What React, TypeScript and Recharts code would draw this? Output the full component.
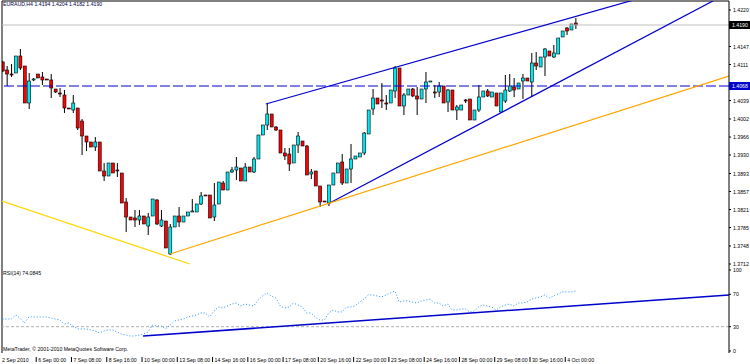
import React from "react";
import { ComposedChart, Bar, Line, XAxis, YAxis, ReferenceLine } from "recharts";

/* EURAUD H4, 2 Sep 16:00 .. 4 Oct 08:00 (bar index 0..130) */
const OPEN = [
  1.4116, 1.4100, 1.4092, 1.4094, 1.4128, 1.4108, 1.4034, 1.4080, 1.4092, 1.4086,
  1.4082, 1.4080, 1.4062, 1.4054, 1.4050, 1.4024, 1.4020, 1.4024, 1.3998, 1.3968,
  1.3956, 1.3946, 1.3956, 1.3898, 1.3888, 1.3914, 1.3900, 1.3894, 1.3836, 1.3806,
  1.3804, 1.3800, 1.3808, 1.3788, 1.3808, 1.3840, 1.3788, 1.3798, 1.3732, 1.3786,
  1.3808, 1.3796, 1.3808, 1.3816, 1.3816, 1.3832, 1.3850, 1.3850, 1.3806, 1.3832,
  1.3874, 1.3860, 1.3896, 1.3900, 1.3904, 1.3878, 1.3906, 1.3896, 1.3922, 1.3970,
  1.3990, 1.4012, 1.3986, 1.3980, 1.3934, 1.3932, 1.3914, 1.3950, 1.3958, 1.3948,
  1.3892, 1.3898, 1.3868, 1.3838, 1.3834, 1.3870, 1.3894, 1.3916, 1.3874, 1.3902,
  1.3922, 1.3926, 1.3934, 1.3972, 1.4022, 1.4044, 1.4040, 1.4034, 1.4034, 1.4058,
  1.4104, 1.4028, 1.4050, 1.4062, 1.4048, 1.4042, 1.4062, 1.4076, 1.4056, 1.4056,
  1.4068, 1.4036, 1.4060, 1.4020, 1.4020, 1.4040, 1.4042, 1.4000, 1.4020, 1.4046,
  1.4058, 1.4046, 1.4054, 1.4016, 1.4038, 1.4058, 1.4066, 1.4062, 1.4078, 1.4084,
  1.4076, 1.4114, 1.4106, 1.4126, 1.4138, 1.4126, 1.4132, 1.4166, 1.4184, 1.4180,
  1.4194,
];
const HIGH = [
  1.4118, 1.4108, 1.4112, 1.4128, 1.4142, 1.4108, 1.4094, 1.4084, 1.4092, 1.4096,
  1.4082, 1.4092, 1.4062, 1.4064, 1.4060, 1.4024, 1.4050, 1.4024, 1.4002, 1.3968,
  1.3956, 1.3966, 1.3956, 1.3914, 1.3914, 1.3914, 1.3914, 1.3894, 1.3844, 1.3806,
  1.3820, 1.3820, 1.3808, 1.3814, 1.3842, 1.3842, 1.3820, 1.3798, 1.3792, 1.3808,
  1.3826, 1.3808, 1.3816, 1.3842, 1.3832, 1.3856, 1.3850, 1.3850, 1.3874, 1.3876,
  1.3878, 1.3896, 1.3906, 1.3926, 1.3904, 1.3914, 1.3906, 1.3926, 1.3970, 1.3990,
  1.4032, 1.4012, 1.3988, 1.3980, 1.3944, 1.3944, 1.3950, 1.3976, 1.3958, 1.3950,
  1.3902, 1.3898, 1.3868, 1.3838, 1.3870, 1.3894, 1.3914, 1.3932, 1.3902, 1.3952,
  1.3928, 1.3934, 1.3976, 1.4020, 1.4062, 1.4044, 1.4074, 1.4050, 1.4060, 1.4108,
  1.4104, 1.4054, 1.4062, 1.4064, 1.4066, 1.4062, 1.4096, 1.4078, 1.4070, 1.4076,
  1.4068, 1.4062, 1.4060, 1.4030, 1.4030, 1.4042, 1.4042, 1.4020, 1.4070, 1.4058,
  1.4062, 1.4056, 1.4054, 1.4054, 1.4090, 1.4092, 1.4084, 1.4074, 1.4092, 1.4084,
  1.4134, 1.4136, 1.4126, 1.4144, 1.4138, 1.4150, 1.4164, 1.4178, 1.4186, 1.4192,
  1.4204,
];
const LOW = [
  1.4096, 1.4068, 1.4086, 1.4094, 1.4100, 1.4034, 1.4022, 1.4078, 1.4084, 1.4070,
  1.4080, 1.4044, 1.4054, 1.4046, 1.4014, 1.4022, 1.4014, 1.3980, 1.3930, 1.3938,
  1.3946, 1.3938, 1.3898, 1.3878, 1.3888, 1.3894, 1.3886, 1.3834, 1.3776, 1.3800,
  1.3786, 1.3790, 1.3792, 1.3770, 1.3808, 1.3790, 1.3786, 1.3744, 1.3730, 1.3786,
  1.3786, 1.3796, 1.3808, 1.3816, 1.3816, 1.3830, 1.3848, 1.3804, 1.3798, 1.3832,
  1.3860, 1.3860, 1.3894, 1.3880, 1.3878, 1.3878, 1.3896, 1.3894, 1.3922, 1.3970,
  1.3980, 1.3986, 1.3978, 1.3934, 1.3920, 1.3898, 1.3914, 1.3934, 1.3948, 1.3890,
  1.3882, 1.3868, 1.3826, 1.3836, 1.3828, 1.3870, 1.3894, 1.3870, 1.3874, 1.3874,
  1.3922, 1.3926, 1.3930, 1.3972, 1.4010, 1.4032, 1.4024, 1.4020, 1.4034, 1.4044,
  1.4028, 1.4010, 1.4050, 1.4046, 1.4010, 1.4042, 1.4034, 1.4076, 1.4044, 1.4046,
  1.4034, 1.4016, 1.4020, 1.4000, 1.4020, 1.4034, 1.4000, 1.4000, 1.4016, 1.4046,
  1.4046, 1.4046, 1.4028, 1.4016, 1.4034, 1.4056, 1.4046, 1.4062, 1.4042, 1.4078,
  1.4046, 1.4100, 1.4106, 1.4088, 1.4128, 1.4124, 1.4132, 1.4166, 1.4170, 1.4180,
  1.4182,
];
const CLOSE = [
  1.4098, 1.4092, 1.4090, 1.4128, 1.4104, 1.4034, 1.4078, 1.4082, 1.4084, 1.4080,
  1.4081, 1.4064, 1.4056, 1.4052, 1.4024, 1.4022, 1.4034, 1.3984, 1.3968, 1.3956,
  1.3946, 1.3956, 1.3898, 1.3888, 1.3914, 1.3894, 1.3898, 1.3834, 1.3806, 1.3800,
  1.3800, 1.3808, 1.3792, 1.3806, 1.3842, 1.3792, 1.3800, 1.3744, 1.3786, 1.3808,
  1.3796, 1.3808, 1.3816, 1.3818, 1.3832, 1.3848, 1.3849, 1.3804, 1.3830, 1.3876,
  1.3860, 1.3896, 1.3900, 1.3906, 1.3878, 1.3906, 1.3896, 1.3922, 1.3970, 1.3990,
  1.4012, 1.3986, 1.3980, 1.3934, 1.3928, 1.3912, 1.3950, 1.3968, 1.3948, 1.3890,
  1.3896, 1.3868, 1.3836, 1.3837, 1.3870, 1.3894, 1.3914, 1.3874, 1.3902, 1.3922,
  1.3928, 1.3934, 1.3974, 1.4020, 1.4044, 1.4032, 1.4039, 1.4033, 1.4060, 1.4104,
  1.4028, 1.4050, 1.4062, 1.4048, 1.4042, 1.4062, 1.4076, 1.4078, 1.4055, 1.4068,
  1.4034, 1.4060, 1.4020, 1.4026, 1.4030, 1.4039, 1.4000, 1.4020, 1.4046, 1.4058,
  1.4048, 1.4056, 1.4028, 1.4054, 1.4060, 1.4068, 1.4060, 1.4074, 1.4084, 1.4078,
  1.4114, 1.4108, 1.4126, 1.4142, 1.4128, 1.4134, 1.4164, 1.4178, 1.4178, 1.4192,
  1.4190,
];
const RSI = [
  39.5, 39.5, 39.5, 44.5, 40.7, 34.6, 42, 42, 42, 42,
  42, 40.7, 39.5, 38.3, 33.3, 34.6, 30.9, 27.2, 27.2, 27.2,
  26, 24.7, 22.2, 24.7, 26, 26, 23.5, 21, 19.8, 18.5,
  18.5, 19.8, 21, 23.5, 32, 30.9, 30.9, 27.2, 32, 37,
  38.3, 39.5, 42, 43.2, 44.5, 46.9, 46.9, 42, 49.4, 54.3,
  53.1, 55.6, 58, 59.3, 55.6, 58, 56.8, 55.6, 63, 67.9,
  71.6, 67.9, 65.5, 55.6, 53.1, 54.3, 59.3, 56.8, 54.3, 46.9,
  46.9, 42, 38.3, 38.3, 46.9, 50.6, 48.2, 48.2, 54.3, 54.3,
  55.6, 60.5, 64.2, 69.2, 69.2, 67.9, 66.7, 69.2, 71.6, 74.1,
  60.5, 61.8, 61.8, 60.5, 59.3, 61.8, 63, 64.2, 59.3, 59.3,
  55.6, 58, 50.6, 50.6, 51.9, 51.9, 48.2, 49.4, 54.3, 56.8,
  55.6, 54.3, 50.6, 54.3, 56.8, 58, 55.6, 59.3, 59.3, 60.5,
  64.2, 65.5, 66.7, 69.2, 65.5, 67.9, 70.4, 72.9, 72.9, 72.9,
  74.1,
];

const PRICE_TICKS = [1.4220, 1.4147, 1.4111, 1.4039, 1.4002, 1.3966, 1.3930, 1.3893, 1.3857, 1.3821, 1.3785, 1.3748, 1.3712];
const BID = 1.4190;
const LEVEL = 1.4068;
const RSI_TICKS = [0, 30, 70, 100];
const DATE_TICKS = [0, 8, 16, 24, 32, 40, 48, 56, 64, 72, 80, 88, 96, 104, 112, 120, 128];
const DATE_LABELS = [
  "2 Sep 2010", "6 Sep 00:00", "7 Sep 08:00", "8 Sep 16:00", "10 Sep 00:00", "13 Sep 08:00",
  "14 Sep 16:00", "16 Sep 00:00", "17 Sep 08:00", "20 Sep 16:00", "22 Sep 00:00", "23 Sep 08:00",
  "24 Sep 16:00", "28 Sep 00:00", "29 Sep 08:00", "30 Sep 16:00", "4 Oct 00:00",
];

/* trendlines: [bar index, price] */
const UPPER_LINE = [{ x: 59.75, y: 1.4032 }, { x: 150, y: 1.4257 }];
const LOWER_LINE = [{ x: 73.8, y: 1.3832 }, { x: 164.8, y: 1.4255 }];
const ORANGE_LINE = [{ x: 38, y: 1.3732 }, { x: 164.8, y: 1.4088 }];
const GOLD_LINE = [{ x: -0.1, y: 1.3838 }, { x: 42.5, y: 1.3712 }];
const RSI_LINE = [{ x: 31.9, y: 18.5 }, { x: 164.8, y: 69.2 }];

const X_MIN = -0.1;
const X_MAX = 164.8;
const P_MIN = 1.3708;
const P_MAX = 1.4238;

const FONT = "'Liberation Sans', Arial, sans-serif";
const FS = 5.2;
const BULL = "#00e8f0";
const BEAR = "#ff0000";
const BLUE = "#0000cd";

const rows = OPEN.map((o, i) => ({
  i, open: o, high: HIGH[i], low: LOW[i], close: CLOSE[i],
  range: [LOW[i], HIGH[i]], rsi: RSI[i],
}));

const Candle = (props: any) => {
  const { x, y, width, height, payload } = props;
  if (height == null || !payload) return null;
  const k = height / (payload.high - payload.low);
  const cx = x + width / 2;
  const yo = y + (payload.high - payload.open) * k;
  const yc = y + (payload.high - payload.close) * k;
  const top = Math.min(yo, yc);
  const h = Math.max(Math.abs(yo - yc), 1);
  const bull = payload.close >= payload.open;
  return (
    <g>
      <line x1={cx} x2={cx} y1={y} y2={y + height} stroke="#000" strokeWidth={1} />
      <rect x={cx - 1.5} y={top} width={3} height={h} fill={bull ? BULL : BEAR} stroke="#000" strokeWidth={0.6} />
    </g>
  );
};

const PriceTick = (p: any) => {
  const v = p.payload.value;
  const x = p.x;
  const y = p.y;
  if (v === BID || v === LEVEL) {
    return (
      <g>
        <rect x={x} y={y - 4} width={21} height={8} fill={v === BID ? "#000" : BLUE} />
        <text x={x + 3} y={y + 2} fill="#fff" fontSize={FS} fontFamily={FONT}>{v.toFixed(4)}</text>
      </g>
    );
  }
  return (
    <g>
      <line x1={x} x2={x + 2} y1={y} y2={y} stroke="#000" />
      <text x={x + 4} y={y + 2} fill="#000" fontSize={FS} fontFamily={FONT}>{v.toFixed(4)}</text>
    </g>
  );
};

const RsiTick = (p: any) => (
  <g>
    <line x1={p.x} x2={p.x + 2} y1={p.y} y2={p.y} stroke="#000" />
    <text x={p.x + 4} y={p.y + 2} fill="#000" fontSize={FS} fontFamily={FONT}>{p.payload.value}</text>
  </g>
);

const DateTick = (p: any) => {
  const idx = DATE_TICKS.indexOf(p.payload.value);
  const label = DATE_LABELS[idx];
  const x = p.x - 1.5;
  return (
    <g>
      {idx > 0 && <line x1={x} x2={x} y1={p.y + 4} y2={p.y + 9} stroke="#000" />}
      <text x={idx > 0 ? x + 2 : 2} y={p.y + 9} fill="#000" fontSize={FS} fontFamily={FONT}>{label}</text>
    </g>
  );
};

const txt: React.CSSProperties = {
  position: "absolute", left: 3, fontSize: FS, fontFamily: FONT, lineHeight: 1, color: "#000", whiteSpace: "nowrap",
};

export default function App() {
  return (
    <div style={{ position: "absolute", left: 0, top: 0, width: 750, height: 364, background: "#fff", overflow: "hidden" }}>
      <div style={{ position: "absolute", left: 0, top: 0 }}>
        <ComposedChart width={750} height={266} data={rows} margin={{ top: 1, right: 0, bottom: 0, left: 2 }}>
          <XAxis dataKey="i" type="number" domain={[X_MIN, X_MAX]} allowDataOverflow hide />
          <YAxis yAxisId="p" orientation="right" width={21} domain={[P_MIN, P_MAX]} allowDataOverflow
            ticks={[...PRICE_TICKS, BID, LEVEL]} interval={0} tick={<PriceTick />} tickSize={0} tickMargin={0}
            tickLine={false} axisLine={{ stroke: "#000" }} />
          <ReferenceLine yAxisId="p" y={P_MAX} stroke="#000" strokeWidth={1} />
          <ReferenceLine yAxisId="p" x={X_MIN} stroke="#000" strokeWidth={1} />
          <ReferenceLine yAxisId="p" y={BID} stroke="#c0c0c0" strokeWidth={1} />
          <ReferenceLine yAxisId="p" y={LEVEL} stroke={BLUE} strokeWidth={1} strokeDasharray="10 3" />
          <Bar yAxisId="p" dataKey="range" barSize={3} shape={<Candle />} isAnimationActive={false} />
          <ReferenceLine yAxisId="p" segment={UPPER_LINE} stroke={BLUE} strokeWidth={1.2} ifOverflow="hidden" />
          <ReferenceLine yAxisId="p" segment={LOWER_LINE} stroke={BLUE} strokeWidth={1.2} ifOverflow="hidden" />
          <ReferenceLine yAxisId="p" segment={ORANGE_LINE} stroke="#ffa500" strokeWidth={1.2} ifOverflow="hidden" />
          <ReferenceLine yAxisId="p" segment={GOLD_LINE} stroke="#ffd700" strokeWidth={1.2} ifOverflow="hidden" />
        </ComposedChart>
      </div>
      <div style={{ position: "absolute", left: 0, top: 266 }}>
        <ComposedChart width={750} height={98} data={rows} margin={{ top: 0, right: 0, bottom: 0, left: 2 }}>
          <XAxis dataKey="i" type="number" domain={[X_MIN, X_MAX]} allowDataOverflow height={11}
            ticks={DATE_TICKS} interval={0} tick={<DateTick />} tickSize={0} tickMargin={0}
            tickLine={false} axisLine={false} />
          <YAxis yAxisId="r" orientation="right" width={21} domain={[-2.47, 104.94]} allowDataOverflow
            ticks={RSI_TICKS} interval={0} tick={<RsiTick />} tickSize={0} tickMargin={0}
            tickLine={false} axisLine={{ stroke: "#000" }} />
          <ReferenceLine yAxisId="r" x={X_MIN} stroke="#000" strokeWidth={1} />
          <ReferenceLine yAxisId="r" y={30} stroke="#b0b0b0" strokeDasharray="3 2" />
          <Line yAxisId="r" dataKey="rsi" type="linear" stroke="#1e90ff" strokeWidth={1}
            strokeDasharray="1 2" dot={false} isAnimationActive={false} />
          <ReferenceLine yAxisId="r" segment={RSI_LINE} stroke={BLUE} strokeWidth={1.6} ifOverflow="hidden" />
        </ComposedChart>
      </div>
      <div style={{ ...txt, top: 2, color: "#000040" }}>EURAUD,H4 1.4194 1.4204 1.4182 1.4190</div>
      <div style={{ ...txt, top: 271 }}>RSI(14) 74.0845</div>
      <div style={{ ...txt, top: 347 }}>MetaTrader, © 2001-2010 MetaQuotes Software Corp.</div>
    </div>
  );
}
